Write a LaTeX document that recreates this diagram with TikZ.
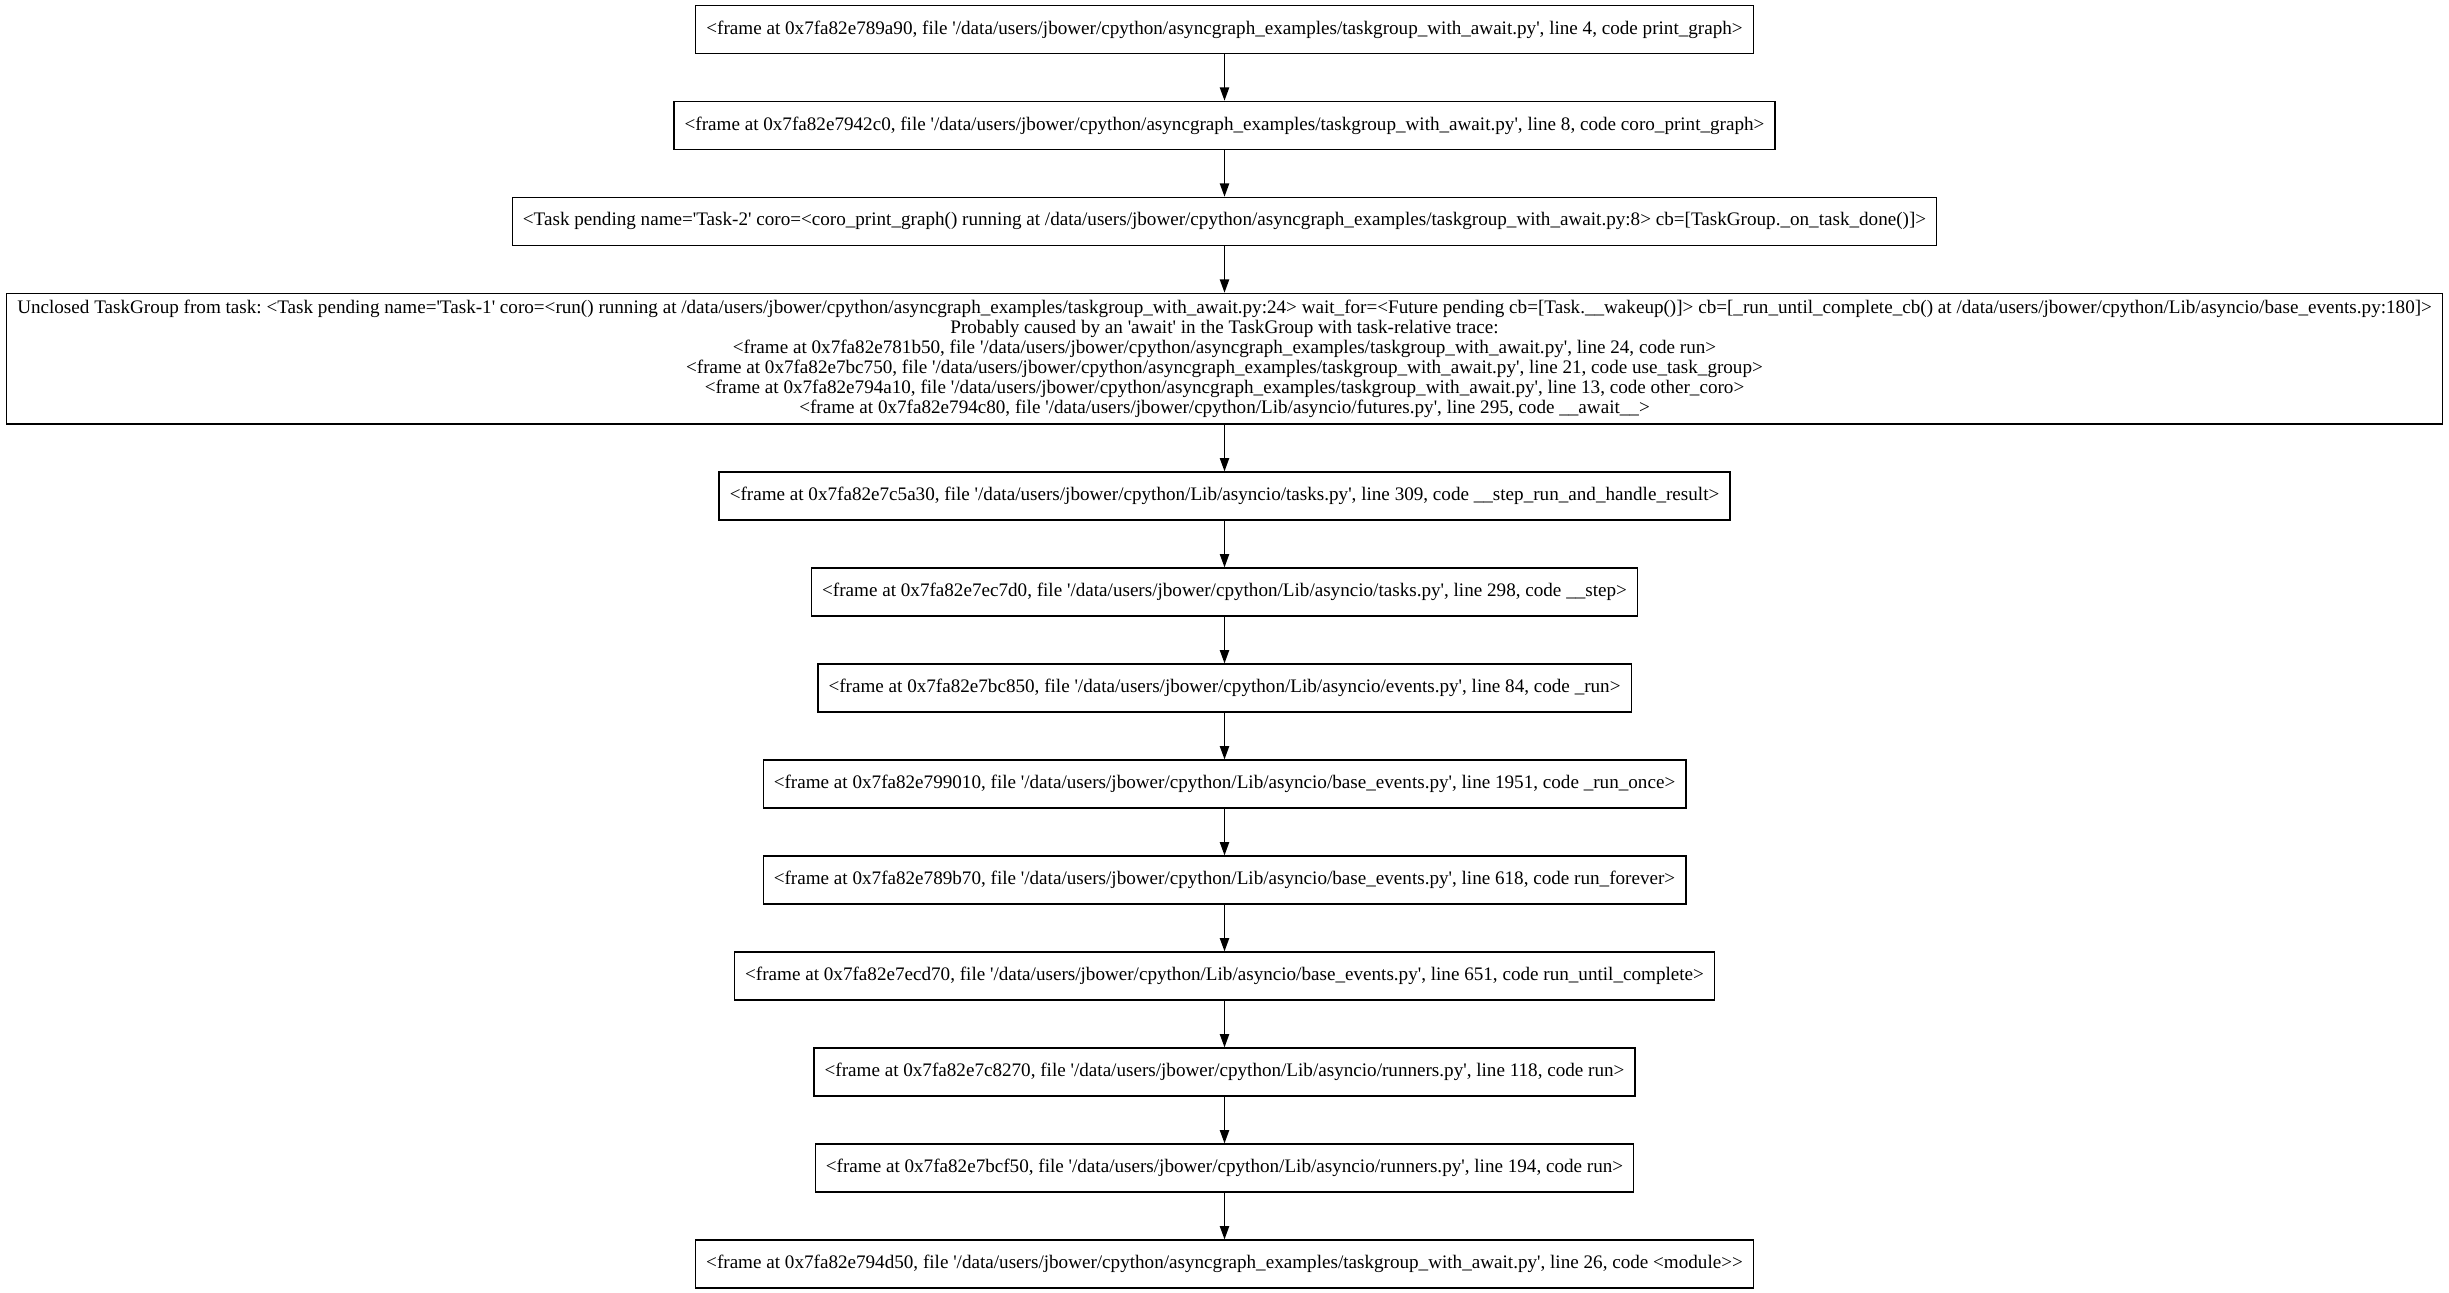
\documentclass[tikz,border=0pt]{standalone}
\usepackage{fontspec}
\newfontfamily\gvfont{Liberation Serif}[Ligatures=TeXOff]
\usetikzlibrary{arrows.meta}
\tikzset{
  frame/.style={draw=black, line width=1bp, rectangle, inner xsep=8bp, inner ysep=0bp,
    minimum height=36bp, align=center, font=\gvfont\fontsize{14.34bp}{15bp}\selectfont\frenchspacing, text=black},
  bigframe/.style={frame, minimum height=98bp},
  arr/.style={line width=1bp, draw=black, -{Triangle[length=10bp,width=7bp]}}
}
\def\q{\char"0027\relax}
\begin{document}
\begin{tikzpicture}
\useasboundingbox[fill=white] (0,0) rectangle (1836.75bp,-969.75bp);
\def\cx{918.375bp}
\node[frame] (b1) at (\cx,-22bp) {<frame at 0x7fa82e789a90, file \q/data/users/jbower/cpython/asyncgraph\_examples/taskgroup\_with\_await.py\q, line 4, code print\_graph>};
\node[frame] (b2) at (\cx,-94bp) {<frame at 0x7fa82e7942c0, file \q/data/users/jbower/cpython/asyncgraph\_examples/taskgroup\_with\_await.py\q, line 8, code coro\_print\_graph>};
\node[frame] (b3) at (\cx,-166bp) {<Task pending name=\q Task-2\q\ coro=<coro\_print\_graph() running at /data/users/jbower/cpython/asyncgraph\_examples/taskgroup\_with\_await.py:8> cb=[TaskGroup.\_on\_task\_done()]>};
\node[bigframe] (b4) at (\cx,-269bp) {Unclosed TaskGroup from task: <Task pending name=\q Task-1\q\ coro=<run() running at /data/users/jbower/cpython/asyncgraph\_examples/taskgroup\_with\_await.py:24> wait\_for=<Future pending cb=[Task.\_\_wakeup()]> cb=[\_run\_until\_complete\_cb() at /data/users/jbower/cpython/Lib/asyncio/base\_events.py:180]>\\
Probably caused by an \q await\q\ in the TaskGroup with task-relative trace:\\
<frame at 0x7fa82e781b50, file \q/data/users/jbower/cpython/asyncgraph\_examples/taskgroup\_with\_await.py\q, line 24, code run>\\
<frame at 0x7fa82e7bc750, file \q/data/users/jbower/cpython/asyncgraph\_examples/taskgroup\_with\_await.py\q, line 21, code use\_task\_group>\\
<frame at 0x7fa82e794a10, file \q/data/users/jbower/cpython/asyncgraph\_examples/taskgroup\_with\_await.py\q, line 13, code other\_coro>\\
<frame at 0x7fa82e794c80, file \q/data/users/jbower/cpython/Lib/asyncio/futures.py\q, line 295, code \_\_await\_\_>};
\node[frame] (b5) at (\cx,-372bp) {<frame at 0x7fa82e7c5a30, file \q/data/users/jbower/cpython/Lib/asyncio/tasks.py\q, line 309, code \_\_step\_run\_and\_handle\_result>};
\node[frame] (b6) at (\cx,-444bp) {<frame at 0x7fa82e7ec7d0, file \q/data/users/jbower/cpython/Lib/asyncio/tasks.py\q, line 298, code \_\_step>};
\node[frame] (b7) at (\cx,-516bp) {<frame at 0x7fa82e7bc850, file \q/data/users/jbower/cpython/Lib/asyncio/events.py\q, line 84, code \_run>};
\node[frame] (b8) at (\cx,-588bp) {<frame at 0x7fa82e799010, file \q/data/users/jbower/cpython/Lib/asyncio/base\_events.py\q, line 1951, code \_run\_once>};
\node[frame] (b9) at (\cx,-660bp) {<frame at 0x7fa82e789b70, file \q/data/users/jbower/cpython/Lib/asyncio/base\_events.py\q, line 618, code run\_forever>};
\node[frame] (b10) at (\cx,-732bp) {<frame at 0x7fa82e7ecd70, file \q/data/users/jbower/cpython/Lib/asyncio/base\_events.py\q, line 651, code run\_until\_complete>};
\node[frame] (b11) at (\cx,-804bp) {<frame at 0x7fa82e7c8270, file \q/data/users/jbower/cpython/Lib/asyncio/runners.py\q, line 118, code run>};
\node[frame] (b12) at (\cx,-876bp) {<frame at 0x7fa82e7bcf50, file \q/data/users/jbower/cpython/Lib/asyncio/runners.py\q, line 194, code run>};
\node[frame] (b13) at (\cx,-948bp) {<frame at 0x7fa82e794d50, file \q/data/users/jbower/cpython/asyncgraph\_examples/taskgroup\_with\_await.py\q, line 26, code <module>>};
\foreach \a/\b in {b1/b2,b2/b3,b3/b4,b4/b5,b5/b6,b6/b7,b7/b8,b8/b9,b9/b10,b10/b11,b11/b12,b12/b13}
  \draw[arr] (\a.south) -- (\b.north);
\end{tikzpicture}
\end{document}
